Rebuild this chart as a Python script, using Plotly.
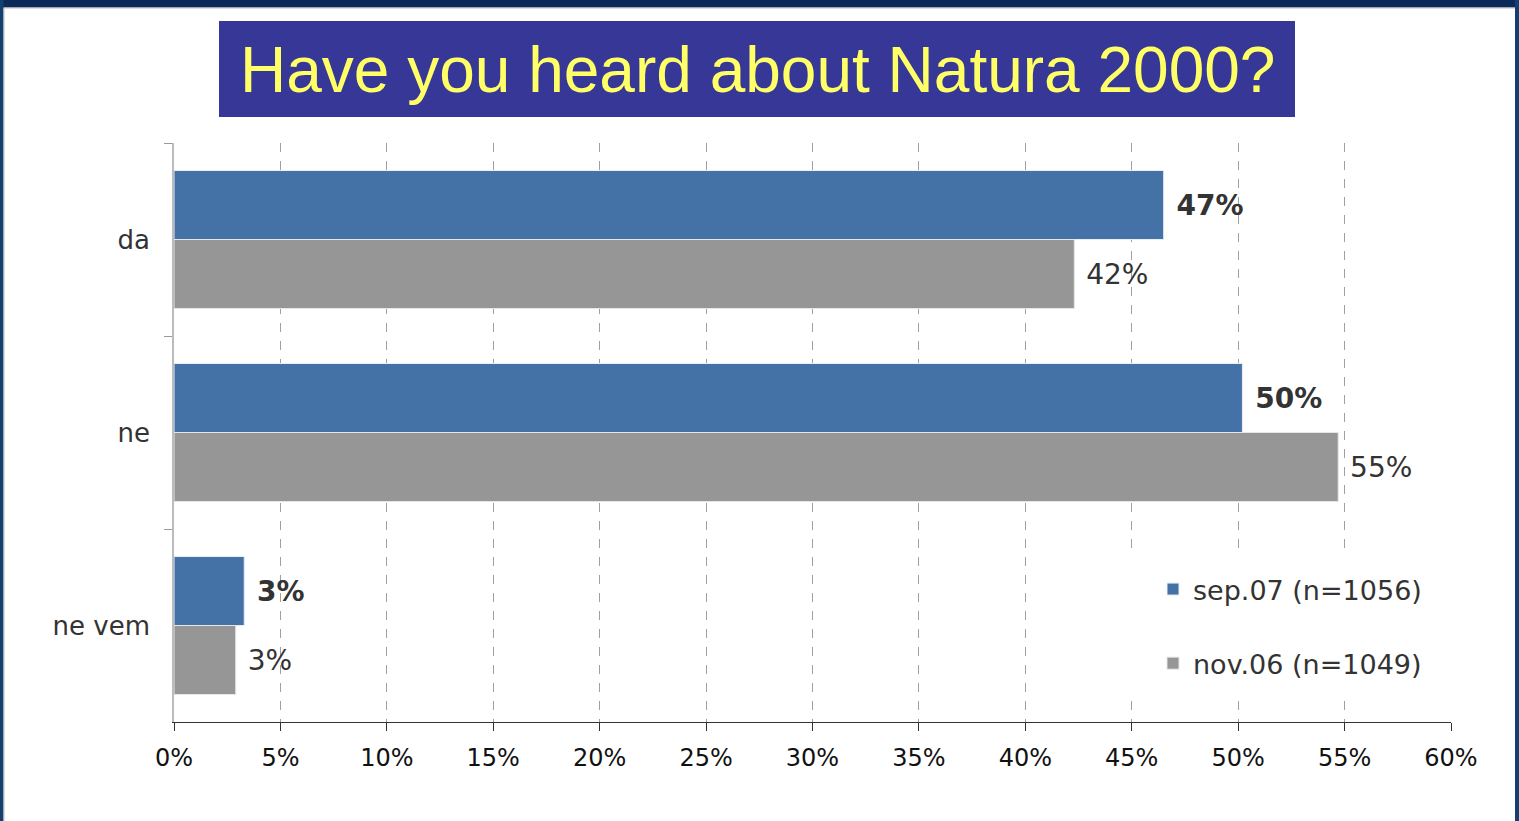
import plotly.graph_objects as go

# ---- data ----
categories = ["da", "ne", "ne vem"]
sep07_values = [46.5, 50.2, 3.3]
nov06_values = [42.3, 54.7, 2.9]
sep07_labels = ["47%", "50%", "3%"]
nov06_labels = ["42%", "55%", "3%"]
series_names = ["sep.07 (n=1056)", "nov.06 (n=1049)"]
x_ticks = list(range(0, 61, 5))
x_tick_labels = [f"{t}%" for t in x_ticks]
title_text = "Have you heard about Natura 2000?"

W, H = 1519, 821
L, R, T, B = 174, 1451, 143, 722


def px(x):
    return (x - L) / (R - L)


def py(y):
    return (B - y) / (B - T)


BLUE = "#4472A6"
GRAY = "#969696"
FONT = "DejaVu Sans"

fig = go.Figure()
fig.add_trace(go.Bar(
    y=categories, x=sep07_values, orientation="h", name=series_names[0],
    marker=dict(color=BLUE, line=dict(color="#E8EEF6", width=1)),
    text=["\u00a0" + s for s in sep07_labels], texttemplate="<b>%{text}</b>",
    textposition="outside", constraintext="none", cliponaxis=False,
    textfont=dict(family=FONT, size=28, color="#333333"),
    legendgroup="a", hoverinfo="skip",
))
fig.add_trace(go.Bar(
    y=categories, x=nov06_values, orientation="h", name=series_names[1],
    marker=dict(color=GRAY, line=dict(color="#E6E6E6", width=1)),
    text=["\u00a0" + s for s in nov06_labels], texttemplate="%{text}",
    textposition="outside", constraintext="none", cliponaxis=False,
    textfont=dict(family=FONT, size=28, color="#333333"),
    legendgroup="b", hoverinfo="skip",
))

shapes = [
    # slide frame
    dict(type="rect", xref="paper", yref="paper", x0=px(0), x1=px(W), y0=py(0), y1=py(7.5),
         fillcolor="#0B2A5A", line=dict(width=0), layer="below"),
    dict(type="rect", xref="paper", yref="paper", x0=px(0), x1=px(3.5), y0=py(0), y1=py(H),
         fillcolor="#14406F", line=dict(width=0), layer="below"),
    dict(type="rect", xref="paper", yref="paper", x0=px(W - 4), x1=px(W), y0=py(0), y1=py(H),
         fillcolor="#14406F", line=dict(width=0), layer="below"),
    dict(type="line", xref="paper", yref="paper", x0=px(4), x1=px(W - 4), y0=py(8), y1=py(8),
         line=dict(color="#BBBBBB", width=1), layer="below"),
    dict(type="line", xref="paper", yref="paper", x0=px(4), x1=px(4), y0=py(8), y1=py(H),
         line=dict(color="#BBBBBB", width=1), layer="below"),
    # title box
    dict(type="rect", xref="paper", yref="paper", x0=px(219), x1=px(1295), y0=py(21), y1=py(117),
         fillcolor="#373797", line=dict(width=0), layer="below"),
    # legend background (hides gridlines)
    dict(type="rect", xref="paper", yref="paper", x0=px(1122), x1=px(1462), y0=py(550), y1=py(695),
         fillcolor="white", line=dict(width=0), layer="above"),
]

fig.update_layout(
    width=W, height=H,
    margin=dict(l=L, r=W - R, t=T, b=H - B, pad=0),
    paper_bgcolor="white", plot_bgcolor="white",
    barmode="group", bargap=0.285, bargroupgap=0,
    showlegend=True,
    legend=dict(
        x=px(1153), y=py(626.5), xanchor="left", yanchor="middle",
        bgcolor="rgba(255,255,255,0)", borderwidth=0,
        font=dict(family=FONT, size=27, color="#333333"),
        traceorder="grouped", tracegroupgap=36,
    ),
    shapes=shapes,
    annotations=[dict(
        text=title_text, xref="paper", yref="paper", x=px(757), y=py(70),
        xanchor="center", yanchor="middle", showarrow=False,
        font=dict(family="Liberation Sans, Arial", size=64, color="#FFFF66"),
    )],
    xaxis=dict(
        range=[0, 60], tickmode="array", tickvals=x_ticks, ticktext=x_tick_labels,
        showgrid=True, gridcolor="#A0A0A0", griddash="dash", gridwidth=1,
        showline=True, linecolor="#333333", linewidth=1,
        ticks="outside", ticklen=8, tickcolor="#333333",
        tickfont=dict(family=FONT, size=24, color="#111111"),
        ticklabelstandoff=6, zeroline=False, fixedrange=True,
    ),
    yaxis=dict(
        categoryorder="array", categoryarray=categories, autorange="reversed",
        showline=True, linecolor="#BBBBBB", linewidth=1.5,
        ticks="outside", ticklen=8, tickcolor="#999999", tickson="boundaries",
        tickfont=dict(family=FONT, size=26, color="#333333"),
        ticklabelstandoff=17, showgrid=False, zeroline=False, fixedrange=True,
    ),
)

fig.write_html("out.html", config={"displayModeBar": False},
               post_script="document.body.style.margin='0';document.body.style.overflow='hidden';")
